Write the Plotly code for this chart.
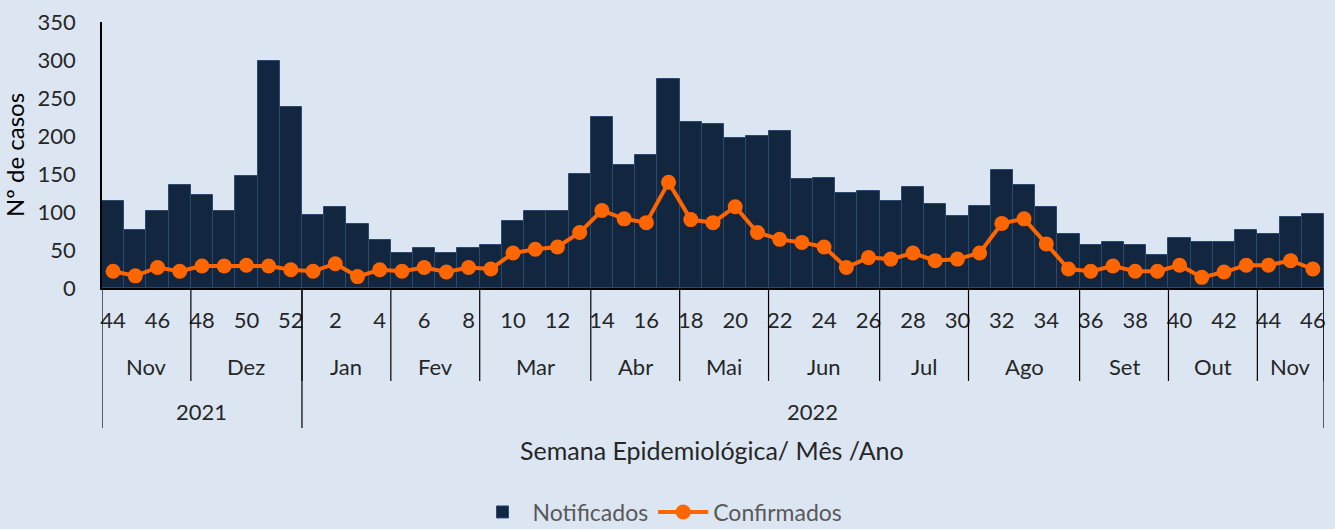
import plotly.graph_objects as go

weeks = [44, 45, 46, 47, 48, 49, 50, 51, 52] + list(range(1, 47))
notificados = [115, 76, 101, 135, 123, 101, 147, 299, 238,
               96, 106, 84, 63, 46, 52, 46, 52, 57, 88, 101, 101, 150,
               225, 162, 175, 275, 218, 216, 198, 200, 206, 143, 145, 125, 128,
               115, 133, 110, 95, 108, 155, 135, 106, 71, 57, 61, 56, 44,
               66, 61, 61, 76, 71, 94, 98]
confirmados = [22, 16, 27, 22, 29, 29, 30, 29, 24,
               22, 32, 15, 24, 22, 27, 21, 27, 25, 46, 51, 54, 73,
               102, 91, 86, 139, 90, 86, 107, 73, 64, 60, 54, 27, 40,
               38, 46, 36, 38, 46, 85, 91, 58, 25, 22, 29, 22, 22,
               30, 14, 21, 30, 30, 36, 25]
months = ["Nov", "Dez", "Jan", "Fev", "Mar", "Abr", "Mai", "Jun", "Jul", "Ago", "Set", "Out", "Nov"]
month_weeks = [4, 5, 4, 4, 5, 4, 4, 5, 4, 5, 4, 4, 3]
years = ["2021", "2022"]
year_weeks = [9, 46]

FONT = "Lato, Carlito, Calibri, sans-serif"
BG = "#DCE6F2"
TXT = "#262626"

x = list(range(len(weeks)))

fig = go.Figure()
fig.add_trace(go.Bar(
    x=x, y=notificados, name="Notificados",
    marker=dict(color="#12263F", line=dict(color="#2B4A70", width=1)),
))
fig.add_trace(go.Scatter(
    x=x, y=confirmados, name="Confirmados", mode="lines+markers",
    line=dict(color="#FF6600", width=4),
    marker=dict(color="#FF6600", size=15),
))

# plot area in pixels
T, B = 22, 288
H = B - T
def py(pix):
    return (B - pix) / H

shapes = []
annotations = []

# month separators and labels
pos = 0
for name, n in zip(months, month_weeks):
    annotations.append(dict(x=pos + (n - 1) / 2, y=py(366), xref="x", yref="paper",
                            text=name, showarrow=False, yanchor="middle",
                            font=dict(family=FONT, size=22, color=TXT)))
    pos += n
    shapes.append(dict(type="line", xref="x", yref="paper", x0=pos - 0.5, x1=pos - 0.5,
                       y0=0, y1=py(381), line=dict(color="#000000", width=1.2)))

# year separators and labels
pos = 0
shapes.append(dict(type="line", xref="x", yref="paper", x0=-0.5, x1=-0.5,
                   y0=0, y1=py(428), line=dict(color="#000000", width=1.2)))
for name, n in zip(years, year_weeks):
    annotations.append(dict(x=pos + (n - 1) / 2, y=py(412), xref="x", yref="paper",
                            text=name, showarrow=False, yanchor="middle",
                            font=dict(family=FONT, size=22, color=TXT)))
    pos += n
    shapes.append(dict(type="line", xref="x", yref="paper", x0=pos - 0.5, x1=pos - 0.5,
                       y0=0, y1=py(428), line=dict(color="#000000", width=1.2)))

annotations.append(dict(x=(712 - 102) / 1222, y=py(450), xref="paper", yref="paper",
                        text="Semana Epidemiológica/ Mês /Ano", showarrow=False,
                        yanchor="middle", xanchor="center",
                        font=dict(family=FONT, size=25, color=TXT)))

fig.update_layout(
    width=1335, height=529,
    paper_bgcolor=BG, plot_bgcolor=BG,
    margin=dict(l=102, r=11, t=T, b=529 - B, autoexpand=False),
    bargap=0,
    showlegend=True,
    legend=dict(orientation="h", x=(660 - 102) / 1222, xanchor="center", y=py(512), yanchor="middle",
                font=dict(family=FONT, size=23, color="#595959"), bgcolor="rgba(0,0,0,0)",
                itemwidth=50, tracegroupgap=0),
    shapes=shapes,
    annotations=annotations,
    font=dict(family=FONT, color=TXT),
)
fig.update_xaxes(
    range=[-0.5, len(weeks) - 0.5],
    tickmode="array", tickvals=x[::2], ticktext=[str(w) for w in weeks[::2]],
    ticks="", showgrid=False, zeroline=False,
    showline=True, linecolor="#000000", linewidth=1.5,
    tickfont=dict(family=FONT, size=22, color=TXT),
    ticklabelstandoff=12,
)
fig.update_yaxes(
    range=[0, 350], tickmode="array", tickvals=list(range(0, 351, 50)),
    ticks="", showgrid=False, zeroline=False,
    showline=True, linecolor="#000000", linewidth=1.5,
    tickfont=dict(family=FONT, size=22, color=TXT),
    ticklabelstandoff=20,
    title=dict(text="Nº de casos", font=dict(family=FONT, size=24, color="#000000"), standoff=14),
)

fig.write_html("out.html", config={"displayModeBar": False},
               post_script="document.body.style.margin='0';document.body.style.background='%s';" % BG)
